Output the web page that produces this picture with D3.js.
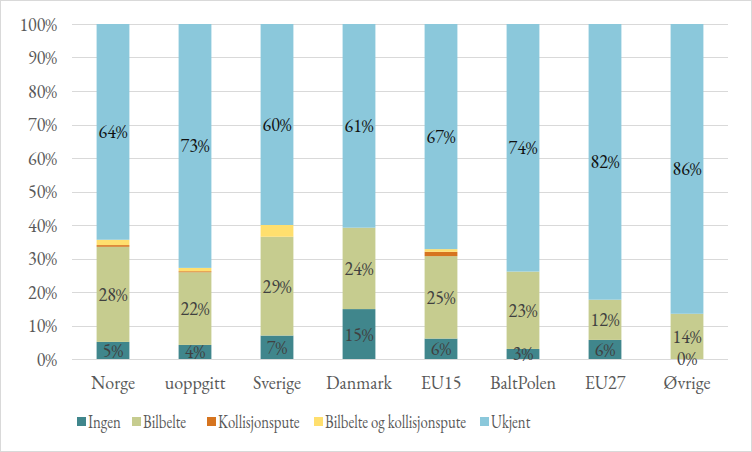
<!DOCTYPE html>
<html><head><meta charset="utf-8">
<script src="https://cdn.jsdelivr.net/npm/d3@7"></script>
<style>
html,body{margin:0;padding:0;background:#fff;}
svg{display:block;}
svg text{font-family:"EB Garamond","Liberation Serif",serif;font-feature-settings:"lnum" 1;font-variant-numeric:lining-nums;}
</style></head>
<body><svg id="c" width="752" height="452"></svg>
<script>
const categories = ["Norge","uoppgitt","Sverige","Danmark","EU15","BaltPolen","EU27","Øvrige"];
const seriesNames = ["Ingen","Bilbelte","Kollisjonspute","Bilbelte og kollisjonspute","Ukjent"];
const ingen       = [5.1, 4.2, 7.0, 14.9, 6.1, 3.0, 5.7, 0.0];
const bilbelte    = [28.4, 21.7, 29.5, 24.3, 24.6, 23.1, 12.0, 13.5];
const kollisjon   = [0.5, 0.3, 0.0, 0.0, 1.3, 0.0, 0.0, 0.0];
const begge       = [1.6, 1.0, 3.5, 0.0, 0.8, 0.0, 0.0, 0.0];
const ukjent      = [64.4, 72.8, 60.0, 60.8, 67.2, 73.9, 82.3, 86.5];
const labelsIngen    = ["5%","4%","7%","15%","6%","3%","6%","0%"];
const labelsBilbelte = ["28%","22%","29%","24%","25%","23%","12%","14%"];
const labelsUkjent   = ["64%","73%","60%","61%","67%","74%","82%","86%"];
const yTicks = [0,10,20,30,40,50,60,70,80,90,100];
const colors = ["#40868C","#C6CC8F","#D6741F","#FFDF6E","#8BC8DB"];

const FS = 18;
const svg = d3.select("#c");
svg.append("rect").attr("x",0.5).attr("y",0.5).attr("width",751).attr("height",451)
  .attr("fill","#fff").attr("stroke","#d9d9d9");

const x = d3.scaleBand().domain(categories).range([72,728]).paddingInner(0.6).paddingOuter(0.3);
const y = d3.scaleLinear().domain([0,100]).range([359,24]);

svg.append("g").selectAll("line").data(yTicks).join("line")
  .attr("x1",72).attr("x2",728).attr("y1",d=>Math.round(y(d))+0.5).attr("y2",d=>Math.round(y(d))+0.5)
  .attr("stroke","#d9d9d9").attr("stroke-width",1);

const table = categories.map((c,i)=>({cat:c, Ingen:ingen[i], Bilbelte:bilbelte[i], Kollisjonspute:kollisjon[i], "Bilbelte og kollisjonspute":begge[i], Ukjent:ukjent[i]}));
const stacked = d3.stack().keys(seriesNames)(table);

svg.append("g").selectAll("g").data(stacked).join("g")
  .attr("fill",(d,i)=>colors[i])
  .selectAll("rect").data(d=>d).join("rect")
  .attr("x",d=>x(d.data.cat)).attr("width",x.bandwidth())
  .attr("y",d=>y(d[1])).attr("height",d=>y(d[0])-y(d[1]));

const yAxis = d3.axisLeft(y).tickValues(yTicks).tickFormat(d=>d+"%").tickSize(0).tickPadding(0);
const ya = svg.append("g").attr("transform","translate(57,0)").call(yAxis);
ya.attr("font-family",null).attr("font-size",null);
ya.select(".domain").remove();
ya.selectAll("text").attr("font-size",FS).attr("fill","#595959").attr("dy","0.36em");

const xAxis = d3.axisBottom(x).tickSize(0).tickPadding(0);
const xa = svg.append("g").attr("transform","translate(0,383)").call(xAxis);
xa.attr("font-family",null).attr("font-size",null);
xa.select(".domain").remove();
xa.selectAll("text").attr("font-size",FS).attr("fill","#595959").attr("dy","0.36em");

const labelSets = [[0,labelsIngen,"#404040"],[1,labelsBilbelte,"#404040"],[4,labelsUkjent,"#111111"]];
labelSets.forEach(([si,labs,col])=>{
  svg.append("g").selectAll("text").data(stacked[si]).join("text")
    .attr("x",d=>x(d.data.cat)+x.bandwidth()/2)
    .attr("y",d=>(y(d[0])+y(d[1]))/2)
    .attr("dy","0.36em")
    .attr("text-anchor","middle").attr("font-size",FS).attr("fill",col)
    .text((d,i)=>labs[i]);
});

const legendX = [77,132,207,314,480];
const lg = svg.append("g").selectAll("g").data(seriesNames).join("g")
  .attr("transform",(d,i)=>`translate(${legendX[i]},417)`);
lg.append("rect").attr("width",9).attr("height",9).attr("fill",(d,i)=>colors[i]);
lg.append("text").attr("transform","translate(11,5) scale(0.82,1)").attr("dy","0.36em").attr("font-size",FS)
  .attr("fill","#595959").text(d=>d);
</script></body></html>
